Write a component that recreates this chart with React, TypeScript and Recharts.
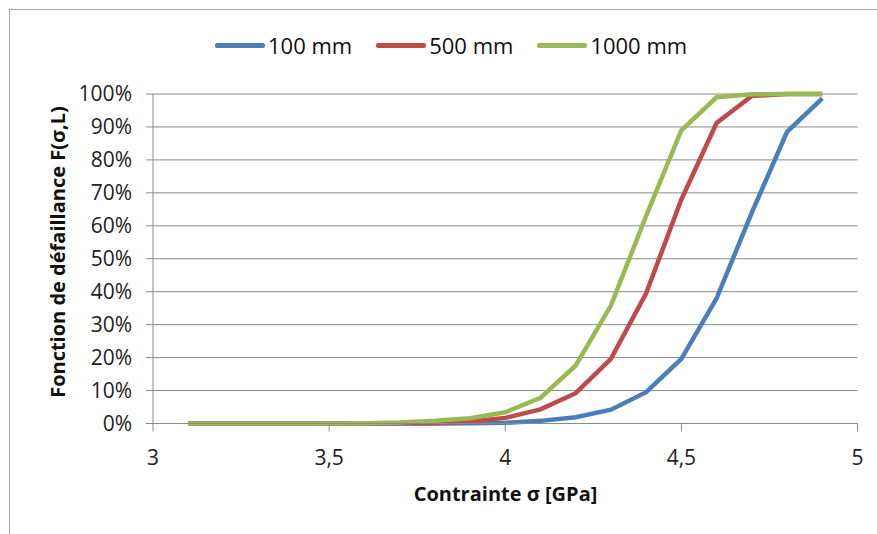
import { LineChart, Line, XAxis, YAxis, CartesianGrid } from 'recharts';

const sigma = [3.1, 3.2, 3.3, 3.4, 3.5, 3.6, 3.7, 3.8, 3.9, 4.0, 4.1, 4.2, 4.3, 4.4, 4.5, 4.6, 4.7, 4.8, 4.9];
const f100 = [0, 0, 0, 0, 0, 0, 0, 0, 0.05, 0.2, 0.8, 1.9, 4.2, 9.5, 19.6, 38, 64, 88.5, 98.7];
const f500 = [0, 0, 0, 0, 0, 0, 0.05, 0.15, 0.6, 1.7, 4.3, 9.2, 19.6, 39.5, 68, 91.2, 99.4, 100, 100];
const f1000 = [0, 0, 0, 0, 0, 0.1, 0.3, 0.8, 1.6, 3.4, 7.8, 17.6, 35.8, 63, 89, 99, 99.9, 100, 100];

const xTicks = [3, 3.5, 4, 4.5, 5];
const yTicks = [0, 10, 20, 30, 40, 50, 60, 70, 80, 90, 100];

const series = [
  { key: 'f100', name: '100 mm', color: '#4A7EBB' },
  { key: 'f500', name: '500 mm', color: '#BE4B48' },
  { key: 'f1000', name: '1000 mm', color: '#98B954' },
];

const data = sigma.map((s, i) => ({ s, f100: f100[i], f500: f500[i], f1000: f1000[i] }));

const GRID = '#8a8a8a';
const FONT = '"Open Sans", sans-serif';

const App = () => {
  return (
    <div style={{ position: 'absolute', left: 0, top: 0, width: 877, height: 534, fontFamily: FONT, background: '#fff' }}>
      <div
        style={{
          position: 'absolute',
          left: 9,
          top: 9,
          width: 868,
          height: 525,
          borderTop: '1px solid #a6a6a6',
          borderLeft: '1px solid #a6a6a6',
          boxSizing: 'border-box',
        }}
      />
      <div style={{ position: 'absolute', left: 215, top: 30, display: 'flex', alignItems: 'center' }}>
        {series.map((s) => (
          <div key={s.key} style={{ display: 'flex', alignItems: 'center', marginRight: 24 }}>
            <div style={{ width: 50, height: 5, background: s.color, borderRadius: 2, marginRight: 3 }} />
            <span style={{ fontSize: 22, color: '#111', lineHeight: '30px' }}>{s.name}</span>
          </div>
        ))}
      </div>
      <LineChart width={877} height={534} data={data} margin={{ top: 94, right: 19.5, left: 0, bottom: 0 }} style={{ position: 'absolute', left: 0, top: 0 }}>
        <CartesianGrid vertical={false} stroke={GRID} strokeWidth={1} />
        <XAxis
          dataKey="s"
          type="number"
          domain={[3, 5]}
          ticks={xTicks}
          height={110.5}
          tickFormatter={(v: number) => String(v).replace('.', ',')}
          tick={{ fontSize: 21, fill: '#222' }}
          axisLine={{ stroke: GRID }}
          tickLine={{ stroke: GRID }}
          tickSize={8}
          tickMargin={19}
        />
        <YAxis
          type="number"
          domain={[0, 100]}
          ticks={yTicks}
          width={153}
          tickFormatter={(v: number) => `${v}%`}
          tick={{ fontSize: 21, fill: '#222' }}
          axisLine={{ stroke: GRID }}
          tickLine={{ stroke: GRID }}
          tickSize={7}
          tickMargin={14}
        />
        {series.map((s) => (
          <Line
            key={s.key}
            type="linear"
            dataKey={s.key}
            name={s.name}
            stroke={s.color}
            strokeWidth={4.5}
            dot={false}
            isAnimationActive={false}
          />
        ))}
      </LineChart>
      <div
        style={{
          position: 'absolute',
          left: 153,
          width: 705,
          top: 480,
          textAlign: 'center',
          fontSize: 20,
          fontWeight: 'bold',
          color: '#111',
        }}
      >
        Contrainte σ [GPa]
      </div>
      <div
        style={{
          position: 'absolute',
          left: 57,
          top: 252,
          transform: 'translate(-50%, -50%) rotate(-90deg)',
          whiteSpace: 'nowrap',
          fontSize: 20,
          fontWeight: 'bold',
          color: '#111',
        }}
      >
        Fonction de défaillance F(σ,L)
      </div>
    </div>
  );
};

export default App;
